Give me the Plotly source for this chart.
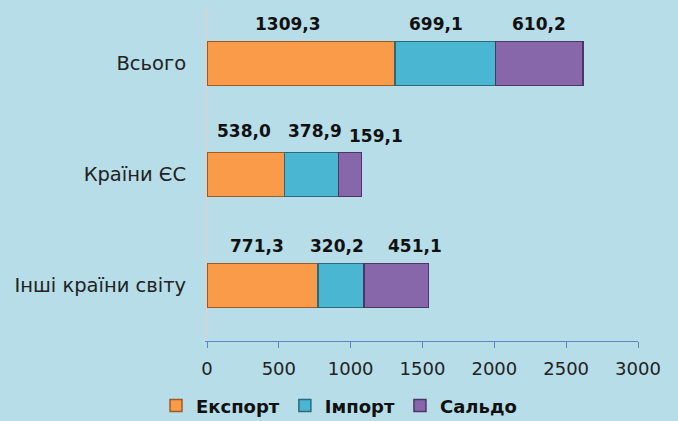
import plotly.graph_objects as go

categories = ["Всього", "Країни ЄС", "Інші країни світу"]
export_vals = [1309.3, 538.0, 771.3]
import_vals = [699.1, 378.9, 320.2]
saldo_vals = [610.2, 159.1, 451.1]
series_names = ["Експорт", "Імпорт", "Сальдо"]
tick_vals = [0, 500, 1000, 1500, 2000, 2500, 3000]

colors = ["#f99b48", "#4ab6d2", "#8767aa"]
line_colors = ["#9c5a24", "#2a6a7c", "#4a3862"]
label_xshift = [[-13, -9, 0], [-2, 3, 26], [-5, -4, 19]]
label_yshift = [[40, 40, 40], [44, 44, 39], [40, 40, 40]]

fig = go.Figure()
series = [export_vals, import_vals, saldo_vals]
for name, vals, c, lc in zip(series_names, series, colors, line_colors):
    fig.add_trace(go.Bar(
        y=categories, x=vals, name="<b>" + name + "</b>", orientation="h",
        marker=dict(color=c, line=dict(color=lc, width=1.5)),
        hoverinfo="x+name",
    ))

def fmt(v):
    return f"{v:.1f}".replace(".", ",")

annotations = []
for ci, cat in enumerate(categories):
    start = 0.0
    for si, vals in enumerate(series):
        v = vals[ci]
        center = start + v / 2
        annotations.append(dict(
            x=center, y=cat, text="<b>" + fmt(v) + "</b>", showarrow=False,
            xshift=label_xshift[ci][si], yshift=label_yshift[ci][si],
            font=dict(family="DejaVu Sans", size=17, color="#111111"),
            xref="x", yref="y",
        ))
        start += v

fig.update_layout(
    barmode="stack",
    bargap=0.6,
    width=678, height=421,
    paper_bgcolor="#b7dde8",
    plot_bgcolor="#b7dde8",
    margin=dict(l=207, r=40, t=8, b=80, autoexpand=False),
    annotations=annotations,
    showlegend=True,
    legend=dict(
        orientation="h", xref="container", x=0.5, xanchor="center",
        yref="container", y=0.036, yanchor="middle",
        font=dict(family="DejaVu Sans", size=18, color="#111111"),
        itemwidth=30, traceorder="normal", bgcolor="rgba(0,0,0,0)",
    ),
    xaxis=dict(
        range=[0, 3000], tickvals=tick_vals, showgrid=False, zeroline=False,
        showline=True, linecolor="#5b86c5", linewidth=1,
        ticks="outside", tickcolor="#5b86c5", ticklen=6, ticklabelstandoff=5,
        tickfont=dict(family="DejaVu Sans", size=18, color="#222222"),
        automargin=False, fixedrange=True,
    ),
    yaxis=dict(
        categoryorder="array", categoryarray=categories[::-1],
        showgrid=False, zeroline=False, showline=True, linecolor="#d4d4d4",
        linewidth=2, ticks="", ticklabelstandoff=15,
        tickfont=dict(family="DejaVu Sans", size=19.5, color="#222222"),
        automargin=False, fixedrange=True,
    ),
)
fig.write_html(
    "out.html",
    config={"displayModeBar": False},
    post_script="document.body.style.margin='0';document.body.style.background='#b7dde8';",
)
